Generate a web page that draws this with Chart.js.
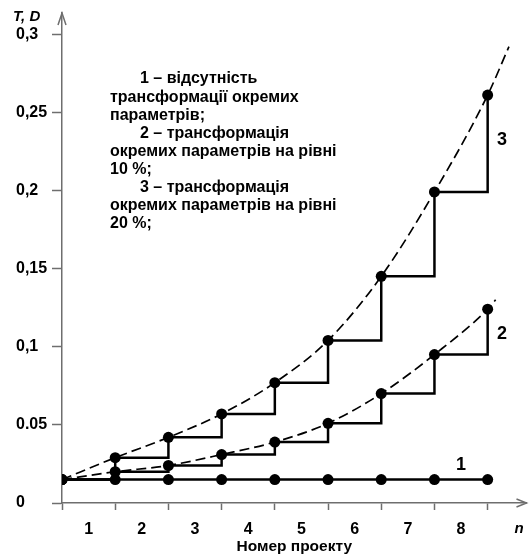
<!DOCTYPE html>
<html>
<head>
<meta charset="utf-8">
<script src="https://cdn.jsdelivr.net/npm/chart.js@4/dist/chart.umd.min.js"></script>
<style>
  html, body { margin: 0; padding: 0; background: #fff; }
  #wrap { width: 532px; height: 556px; }
</style>
</head>
<body>
<div id="wrap"><canvas id="chart"></canvas></div>
<script>
// Дані
const projects = [0, 1, 2, 3, 4, 5, 6, 7, 8];
const series1 = [0.015, 0.015, 0.015, 0.015, 0.015, 0.015, 0.015, 0.015, 0.015];
const series2 = [0.015, 0.020, 0.024, 0.031, 0.039, 0.051, 0.070, 0.095, 0.124];
const series3 = [0.015, 0.029, 0.042, 0.057, 0.077, 0.104, 0.145, 0.199, 0.261];
// кінці пунктирних кривих (за останньою точкою)
const trendEnd2 = { x: 8.15, y: 0.130 };
const trendEnd3 = { x: 8.4, y: 0.292 };

const xTickLabels = ["1", "2", "3", "4", "5", "6", "7", "8"];
const yTicks = [0, 0.05, 0.1, 0.15, 0.2, 0.25, 0.3];
const yTickLabels = ["0", "0.05", "0,1", "0,15", "0,2", "0,25", "0,3"];

const legendLines = [
    ["1 – відсутність", true],
    ["трансформації окремих", false],
    ["параметрів;", false],
    ["2 – трансформація", true],
    ["окремих параметрів на рівні", false],
    ["10 %;", false],
    ["3 – трансформація", true],
    ["окремих параметрів на рівні", false],
    ["20 %;", false],
];

const FONT = "'Liberation Sans', Arial, sans-serif";
const AXIS_GRAY = "#6e6e6e";

function toPoints(values) {
    return projects.map((x, i) => ({ x: x, y: values[i] }));
}

const stepStyle = {
    borderColor: "#000",
    backgroundColor: "#000",
    borderWidth: 2.5,
    stepped: "before",
    pointRadius: 5.5,
    pointBackgroundColor: "#000",
    pointBorderWidth: 0,
    fill: false,
};

const dashStyle = {
    borderColor: "#000",
    borderWidth: 1.7,
    borderDash: [10, 5],
    pointRadius: 0,
    cubicInterpolationMode: "monotone",
    fill: false,
};

// Підписи, стрілки осей та пояснення
const decorPlugin = {
    id: "decor",
    afterDraw(chart) {
        const ctx = chart.ctx;
        const area = chart.chartArea;
        const xs = chart.scales.x;
        const ys = chart.scales.y;
        ctx.save();

        // стрілки осей
        ctx.strokeStyle = AXIS_GRAY;
        ctx.lineWidth = 1.5;
        ctx.beginPath();
        ctx.moveTo(area.left - 4, area.top + 12);
        ctx.lineTo(area.left, area.top);
        ctx.lineTo(area.left + 4, area.top + 12);
        ctx.moveTo(area.right - 10, area.bottom - 4);
        ctx.lineTo(area.right, area.bottom);
        ctx.lineTo(area.right - 10, area.bottom + 4);
        ctx.stroke();

        ctx.fillStyle = "#000";
        ctx.textBaseline = "middle";

        ctx.font = "italic bold 15px " + FONT;
        ctx.textAlign = "left";
        ctx.fillText("T, D", 13, 17);
        ctx.textAlign = "center";
        ctx.fillText("n", 519, 529);

        // номери кривих
        ctx.font = "bold 18px " + FONT;
        ctx.fillText("1", xs.getPixelForValue(7.5), ys.getPixelForValue(0.024));
        ctx.fillText("2", 502, ys.getPixelForValue(0.108));
        ctx.fillText("3", 502, ys.getPixelForValue(0.232));

        // текст пояснення
        ctx.font = "bold 16px " + FONT;
        ctx.textAlign = "left";
        legendLines.forEach(function (line, i) {
            const x = line[1] ? 140 : 110;
            ctx.fillText(line[0], x, 79 + i * 18.1);
        });
        ctx.restore();
    },
};

const chart = new Chart(document.getElementById("chart"), {
    type: "line",
    data: {
        datasets: [
            Object.assign({ label: "1", data: toPoints(series1) }, stepStyle),
            Object.assign({ label: "2", data: toPoints(series2) }, stepStyle),
            Object.assign({ label: "3", data: toPoints(series3) }, stepStyle),
            Object.assign({ label: "2 тренд", data: toPoints(series2).concat([trendEnd2]) }, dashStyle),
            Object.assign({ label: "3 тренд", data: toPoints(series3).concat([trendEnd3]) }, dashStyle),
        ],
    },
    options: {
        responsive: true,
        maintainAspectRatio: false,
        animation: false,
        layout: { padding: { left: 16, top: 13, right: 1, bottom: 0 } },
        plugins: {
            legend: { display: false },
            tooltip: { enabled: false },
        },
        scales: {
            x: {
                type: "linear",
                min: 0,
                max: 8.73,
                afterBuildTicks: function (scale) {
                    const ticks = [];
                    for (let i = 0; i <= 8; i++) {
                        ticks.push({ value: i });
                        if (i < 8) ticks.push({ value: i + 0.5 });
                    }
                    scale.ticks = ticks;
                },
                afterFit: function (scale) {
                    scale.height = 53;
                },
                grid: {
                    drawOnChartArea: false,
                    tickLength: 7,
                    tickWidth: 1.5,
                    tickColor: function (c) {
                        return c.tick && Number.isInteger(c.tick.value) ? AXIS_GRAY : "rgba(0,0,0,0)";
                    },
                },
                border: { color: AXIS_GRAY, width: 1.5 },
                ticks: {
                    autoSkip: false,
                    maxRotation: 0,
                    padding: 10,
                    color: "#000",
                    font: { family: FONT, size: 16, weight: "bold" },
                    callback: function (value) {
                        return Number.isInteger(value) ? "" : xTickLabels[Math.floor(value)];
                    },
                },
                title: {
                    display: true,
                    text: "Номер проекту",
                    color: "#000",
                    padding: { top: 0, bottom: 0 },
                    font: { family: FONT, size: 15.5, weight: "bold" },
                },
            },
            y: {
                type: "linear",
                min: 0,
                max: 0.3135,
                afterBuildTicks: function (scale) {
                    scale.ticks = yTicks.map((v) => ({ value: v }));
                },
                afterFit: function (scale) {
                    scale.width = 46;
                },
                grid: {
                    drawOnChartArea: false,
                    tickLength: 10,
                    tickWidth: 1.5,
                    tickColor: AXIS_GRAY,
                },
                border: { color: AXIS_GRAY, width: 1.5 },
                ticks: {
                    crossAlign: "far",
                    color: "#000",
                    font: { family: FONT, size: 16, weight: "bold" },
                    callback: function (value, index) {
                        return yTickLabels[index];
                    },
                },
            },
        },
    },
    plugins: [decorPlugin],
});
</script>
</body>
</html>
